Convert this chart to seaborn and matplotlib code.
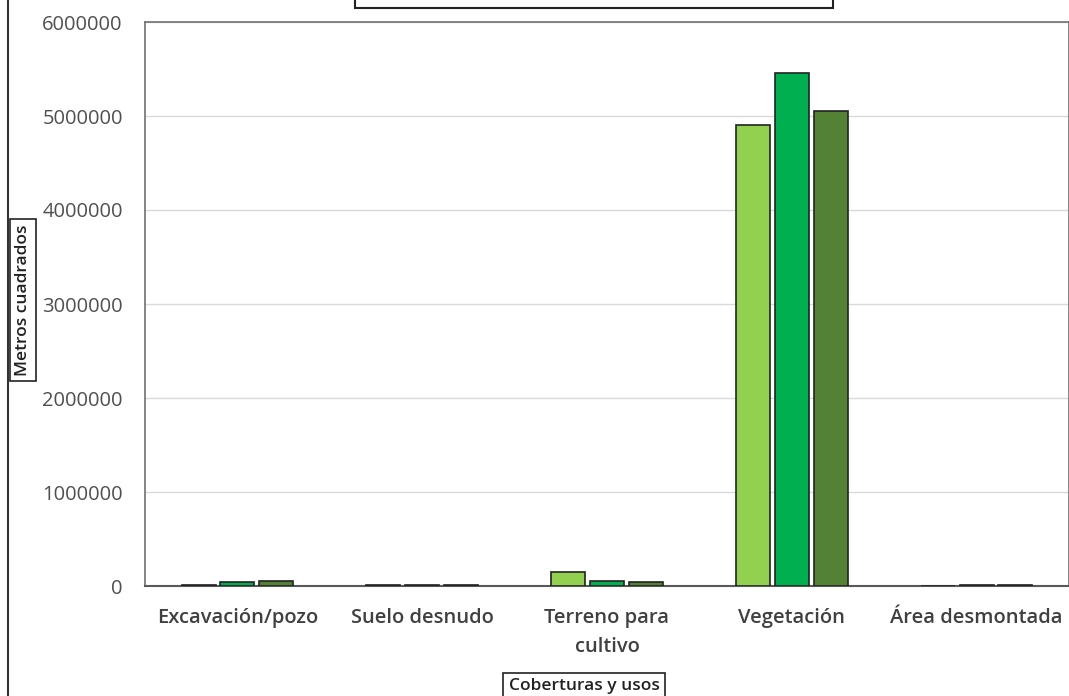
import pandas as pd
import seaborn as sns
import matplotlib.pyplot as plt
from matplotlib.lines import Line2D
from matplotlib.patches import Rectangle

categories = ["Excavación/pozo", "Suelo desnudo", "Terreno para\ncultivo", "Vegetación", "Área desmontada"]
series = ["Serie 1", "Serie 2", "Serie 3"]
serie1 = [10000, 10000, 150000, 4900000, 0]
serie2 = [40000, 10000, 55000, 5460000, 10000]
serie3 = [55000, 10000, 40000, 5050000, 10000]
colors = ["#92D050", "#00B050", "#548235"]

rows = []
for s, vals in zip(series, [serie1, serie2, serie3]):
    for c, v in zip(categories, vals):
        rows.append({"Cobertura": c, "Serie": s, "Metros": v})
df = pd.DataFrame(rows)

sns.set_style("white")
plt.rcParams["font.family"] = ["Open Sans", "DejaVu Sans"]

fig = plt.figure(figsize=(10.69, 6.96), dpi=100)
ax = fig.add_axes([145 / 1069, 110 / 696, 924 / 1069, 564 / 696])

sns.barplot(data=df, x="Cobertura", y="Metros", hue="Serie", palette=colors, saturation=1,
            width=0.63, gap=0.12, edgecolor="#222222", linewidth=1.2,
            errorbar=None, legend=False, ax=ax, zorder=3)

ax.set_ylim(0, 6000000)
ax.set_yticks(range(0, 6000001, 1000000))
ax.set_yticklabels([str(v) for v in range(0, 6000001, 1000000)], fontsize=14.5, color="#505050")
ax.set_xlim(-0.5, 4.5)
ax.tick_params(axis="x", labelsize=14.5, labelcolor="#404040", pad=16, length=0)
ax.tick_params(axis="y", length=0, pad=16)
for lbl in ax.get_xticklabels():
    lbl.set_fontweight("semibold")
    lbl.set_linespacing(1.6)
ax.grid(axis="y", color="#d9d9d9", linewidth=1, zorder=0)
ax.set_axisbelow(True)
for side in ["left", "top", "right"]:
    ax.spines[side].set_color("#707070")
    ax.spines[side].set_linewidth(1.2)
ax.spines["bottom"].set_color("#595959")
ax.spines["bottom"].set_linewidth(1.5)

ax.set_xlabel("")
ax.set_ylabel("")
box = dict(boxstyle="square,pad=0.3", facecolor="white", edgecolor="#222222", linewidth=1.2)
fig.text(23 / 1069, 1 - 300 / 696, "Metros cuadrados", rotation=90, ha="center", va="center",
         fontsize=12.5, fontweight="semibold", color="#222222", bbox=box)
fig.text(584 / 1069, 1 - 686 / 696, "Coberturas y usos", ha="center", va="center",
         fontsize=12.5, fontweight="semibold", color="#222222", bbox=box)

# legend box, cut off at the top of the figure
fig.add_artist(Rectangle((355 / 1069, 1 - 8 / 696), (833 - 355) / 1069, 0.1,
                         transform=fig.transFigure, facecolor="white",
                         edgecolor="#222222", linewidth=1.5))

fig.add_artist(Line2D([8 / 1069, 8 / 1069], [0, 1], color="#333333", linewidth=1.5))

fig.savefig("out.png", dpi=100)
